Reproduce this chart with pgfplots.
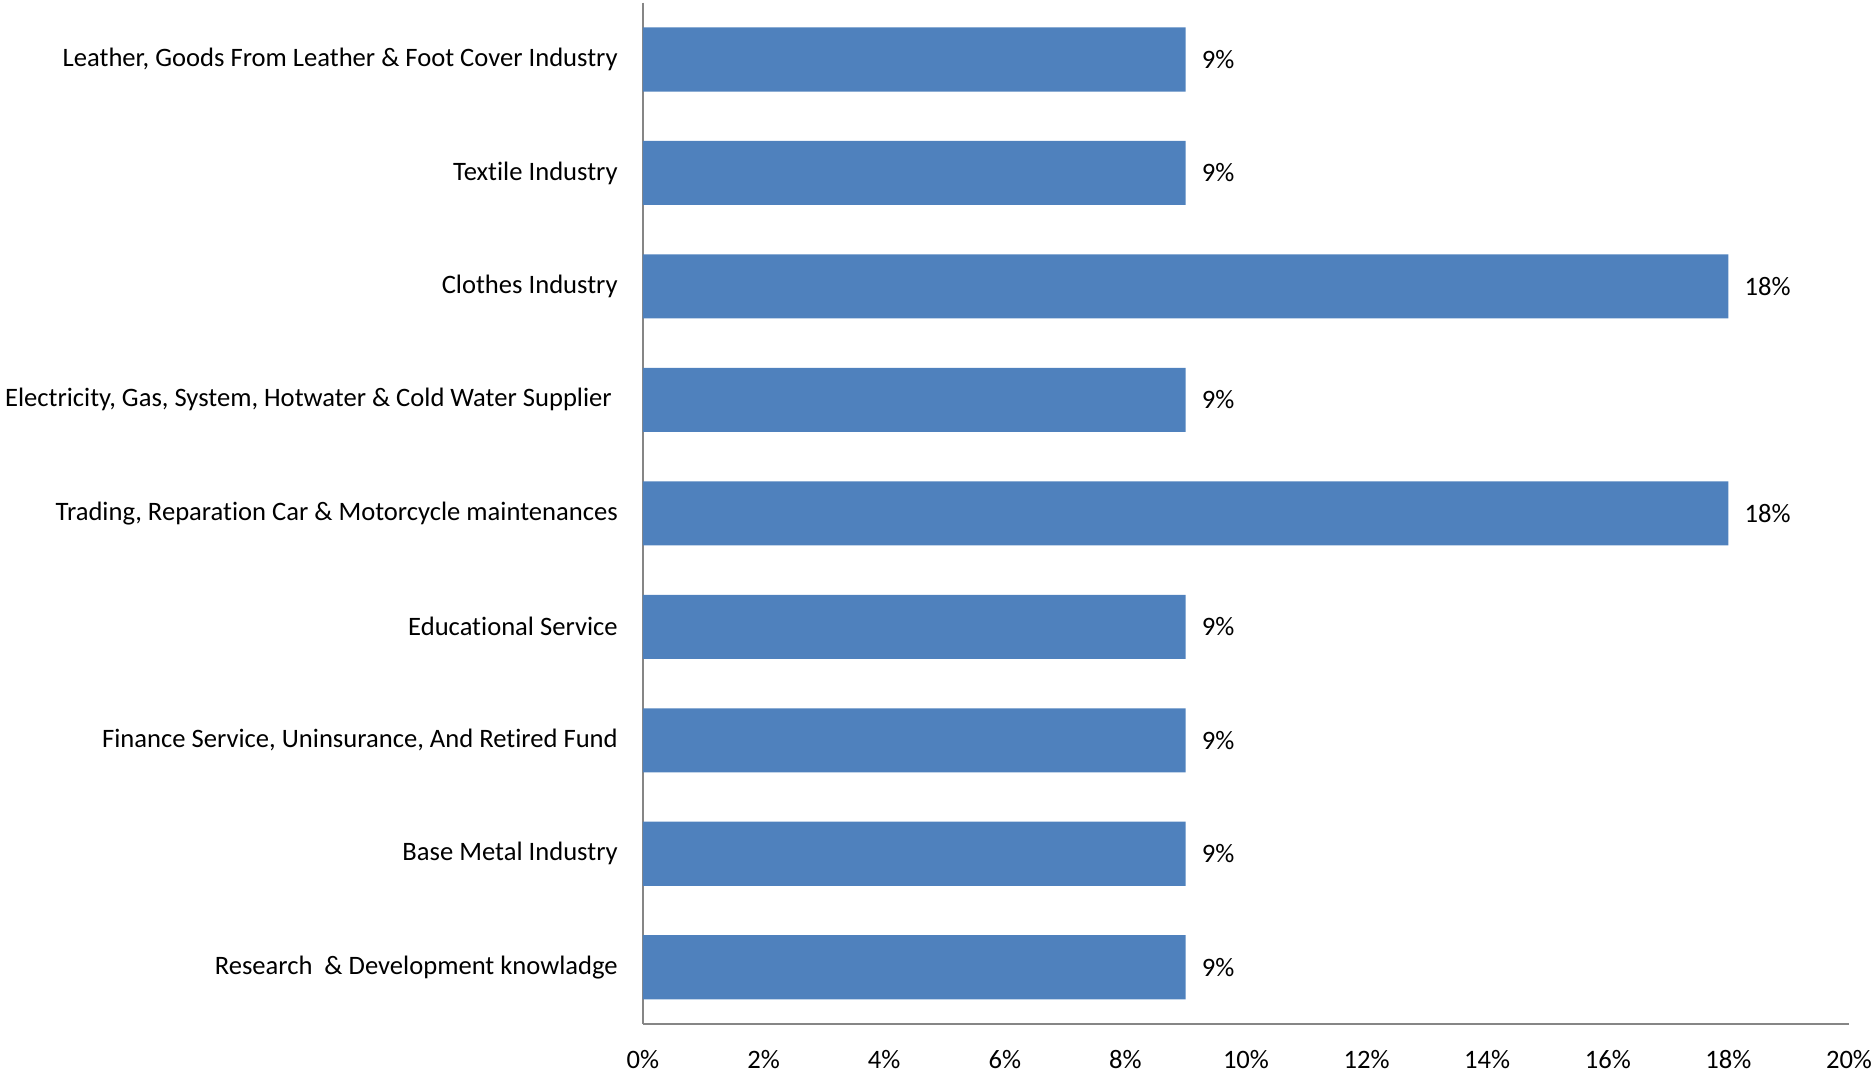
\documentclass[border=0pt]{standalone}
\usepackage{pgfplots}
\pgfplotsset{compat=1.18}
\usepackage{fontspec}
\setmainfont{Carlito}[Ligatures={NoCommon}]
\definecolor{barblue}{HTML}{4F81BD}
\definecolor{axgray}{HTML}{868686}
\begin{document}
\fontsize{13.3}{16}\selectfont
\begin{tikzpicture}
\path[use as bounding box] (-321.5pt,-24.5pt) rectangle (615.5pt,512pt);
\begin{axis}[
  at={(0,0)}, anchor=south west,
  scale only axis, width=603pt, height=510.65pt,
  xbar, bar width=0.565,
  xmin=0, xmax=20, ymin=-0.5, ymax=8.5, y dir=reverse,
  axis x line*=bottom, axis y line*=left,
  axis line style={axgray, line width=0.75pt, -},
  xtick={0,2,...,20},
  xticklabel={\pgfmathprintnumber{\tick}\%},
  ytick={0,...,8},
  yticklabels={
    {Leather, Goods From Leather \& Foot Cover Industry},
    {Textile Industry},
    {Clothes Industry},
    {Electricity, Gas, System, Hotwater \& Cold Water Supplier\hspace*{3pt}},
    {Trading, Reparation Car \& Motorcycle maintenances},
    {Educational Service},
    {Finance Service, Uninsurance, And Retired Fund},
    {Base Metal Industry},
    {Research\ \ \& Development knowladge}},
  major tick length=0pt, tick style={draw=none},
  tick label style={font=\fontsize{13.3}{16}\selectfont, black},
  yticklabel style={xshift=-8pt},
  xticklabel style={yshift=-8.5pt},
  /pgf/number format/assume math mode=true,
  nodes near coords={\pgfmathprintnumber{\pgfplotspointmeta}\%},
  nodes near coords style={anchor=west, xshift=3.5pt, font=\fontsize{13.3}{16}\selectfont, black},
  clip=false,
]
\addplot[fill=barblue, draw=none] coordinates {
  (9,0) (9,1) (18,2) (9,3) (18,4) (9,5) (9,6) (9,7) (9,8)};
\end{axis}
\end{tikzpicture}
\end{document}
